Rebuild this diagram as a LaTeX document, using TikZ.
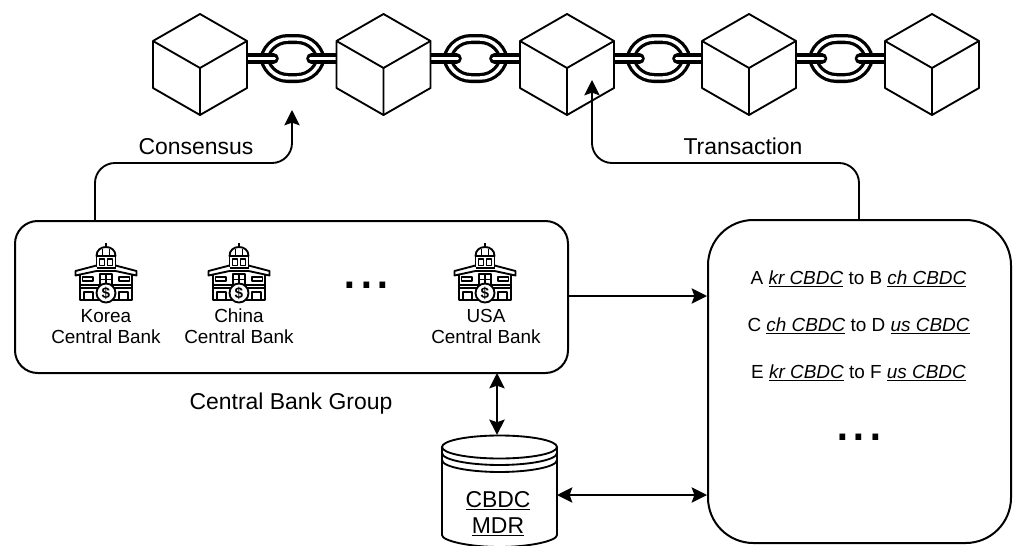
\documentclass[tikz,border=0pt]{standalone}
\usepackage{fontspec}
\setmainfont{Liberation Sans}
\usetikzlibrary{arrows.meta}
\tikzset{
  ln/.style={line width=1.4pt,line join=round,black},
  conn/.style={line width=1.4pt,black,rounded corners=15pt,-{Stealth[length=11.5pt,width=11.5pt,inset=2pt]}},
  dconn/.style={line width=1.4pt,black,{Stealth[length=11.5pt,width=11.5pt,inset=2pt]}-{Stealth[length=11.5pt,width=11.5pt,inset=2pt]}},
  lbl/.style={font=\fontsize{17.2pt}{20pt}\selectfont,anchor=base},
  small/.style={font=\fontsize{14.2pt}{17pt}\selectfont,anchor=base},
  dots/.style={font=\fontsize{45pt}{45pt}\selectfont,anchor=base},
  panel/.style={draw,line width=1.5pt,inner sep=0pt},
  anchorbox/.style={inner sep=0pt,minimum width=70.5pt,minimum height=76pt},
  cube/.pic={
    \draw[ln,fill=white] (0,-50.5) -- (47,-23.5) -- (47,23.5) -- (0,50.5) -- (-47,23.5) -- (-47,-23.5) -- cycle;
    \draw[ln] (-47,-23.5) -- (0,3.5) -- (47,-23.5) (0,3.5) -- (0,50.5);
  },
  chainlink/.pic={
    \draw[black,line width=7.5pt,rounded corners=18pt] (-28.5,-19.5) rectangle (28.5,19.5);
    \draw[white,line width=2.6pt,rounded corners=18pt] (-28.5,-19.5) rectangle (28.5,19.5);
    \draw[black,line width=8pt,line cap=round] (-55,0) -- (-19,0) (19,0) -- (55,0);
    \draw[white,line width=2.6pt,line cap=round] (-55,0) -- (-18,0) (18,0) -- (55,0);
  },
  bank/.pic={
    \begin{scope}[line width=1.4pt,line join=round,black]
      \draw (0,0) -- (0,4);
      \draw (-9.5,13) .. controls (-9.5,7) and (-5,4) .. (0,4) .. controls (5,4) and (9.5,7) .. (9.5,13) -- cycle;
      \draw[line width=0.9pt] (-3.5,6) -- (-3.5,13) (3.5,6) -- (3.5,13);
      \draw (-9.5,13) -- (-9.5,24) (9.5,13) -- (9.5,24);
      \draw[line width=1.1pt] (-6.5,16) rectangle (-1.5,22.5) (1.5,16) rectangle (6.5,22.5);
      \draw (-9.5,25) -- (9.5,25);
      \draw (-9.5,22.5) -- (-30.5,28) -- (-30.5,32.5) -- (-9.5,28) -- (9.5,28) -- (30.5,32.5) -- (30.5,28) -- (9.5,22.5);
      \draw (-26,32) -- (-26,57) -- (26,57) -- (26,32);
      \draw (-26,42) -- (26,42) (-26,45) -- (26,45);
      \draw (-23.5,34) rectangle (-13,38) (13,34) rectangle (23.5,38);
      \draw[line width=1.1pt] (-6,31) rectangle (6,42) (0,31) -- (0,42) (-6,36.5) -- (6,36.5);
      \draw (-22,57) -- (-22,49) -- (-13,49) -- (-13,57) (22,57) -- (22,49) -- (13,49) -- (13,57);
      \draw[fill=white] (0,50) circle (9.5);
    \end{scope}
    \node[font=\fontsize{11.5pt}{11.5pt}\selectfont\bfseries,inner sep=0pt] at (0,50) {\$};
  }
}
\begin{document}
\begin{tikzpicture}[x=0.75pt,y=-0.75pt]
\useasboundingbox (0,0) rectangle (1014,546);
% chain
\foreach \x [count=\i] in {292.5,475.5,658.5,841}{ \pic at (\x,58.5) {chainlink}; }
% cubes
\foreach \x [count=\i] in {200,383.5,567,749,932}{
  \node[anchorbox] (cube\i) at (\x,64.5) {};
  \pic at (\x,64.5) {cube};
}
\coordinate (chainpt) at (292,110);
\coordinate (txpt) at (592,80);
% boxes
\node[panel,rounded corners=17pt,minimum width=414.75pt,minimum height=114pt] (group) at (291.5,297) {};
\node[panel,rounded corners=34pt,minimum width=227.25pt,minimum height=242.25pt] (pool) at (859.5,381.5) {};
% banks
\foreach \x in {106,239,485}{ \pic at (\x,243) {bank}; }
\node[small] (k1) at (106,322) {Korea};
\node[small] (k2) at (106,343) {Central Bank};
\node[small] (c1) at (239,322) {China};
\node[small] (c2) at (239,343) {Central Bank};
\node[small] (u1) at (486,322) {USA};
\node[small] (u2) at (486,343) {Central Bank};
\node[dots] (d1) at (366.5,288) {...};
\node[lbl] (grp) at (291,409) {Central Bank Group};
% transactions
\node[small] (t1) at (858.5,284) {A \underline{\itshape kr CBDC} to B \underline{\itshape ch CBDC}};
\node[small] (t2) at (858.5,331.5) {C \underline{\itshape ch CBDC} to D \underline{\itshape us CBDC}};
\node[small] (t3) at (858.5,378.5) {E \underline{\itshape kr CBDC} to F \underline{\itshape us CBDC}};
\node[dots] (d2) at (859,440) {...};
% cylinder
\node[inner sep=0pt,minimum width=86pt,minimum height=83pt] (mdr) at (499.5,490.5) {};
\draw[line width=1.4pt] (442,447) -- (442,535) .. controls (442,541) and (470,547) .. (499.5,547) .. controls (529,547) and (557,541) .. (557,535) -- (557,447);
\draw[line width=1.4pt] (499.5,447) ellipse [x radius=57.5,y radius=11.5];
\draw[line width=1.4pt] (442,453) .. controls (442,460) and (470,465) .. (499.5,465) .. controls (529,465) and (557,460) .. (557,453);
\draw[line width=1.4pt] (442,460) .. controls (442,467) and (470,472) .. (499.5,472) .. controls (529,472) and (557,467) .. (557,460);
\node[lbl] (m1) at (498,507) {\underline{CBDC}};
\node[lbl] (m2) at (498,533) {\underline{MDR}};
% connectors
\coordinate (gt) at (95,221);
\coordinate (pt) at (859,220);
\draw[conn] (gt) -- (95,163) -- (292,163) -- (chainpt);
\draw[conn] (pt) -- (859,163) -- (592,163) -- (txpt);
\node[lbl] (cons) at (196,154) {Consensus};
\node[lbl] (trans) at (743,154) {Transaction};
\draw[conn] (group.east |- 0,296) -- (pool.west |- 0,296);
\draw[dconn] (497,373) -- (mdr.north -| 497,0);
\draw[dconn] (557,495) -- (pool.west |- 0,495);
\end{tikzpicture}
\end{document}
